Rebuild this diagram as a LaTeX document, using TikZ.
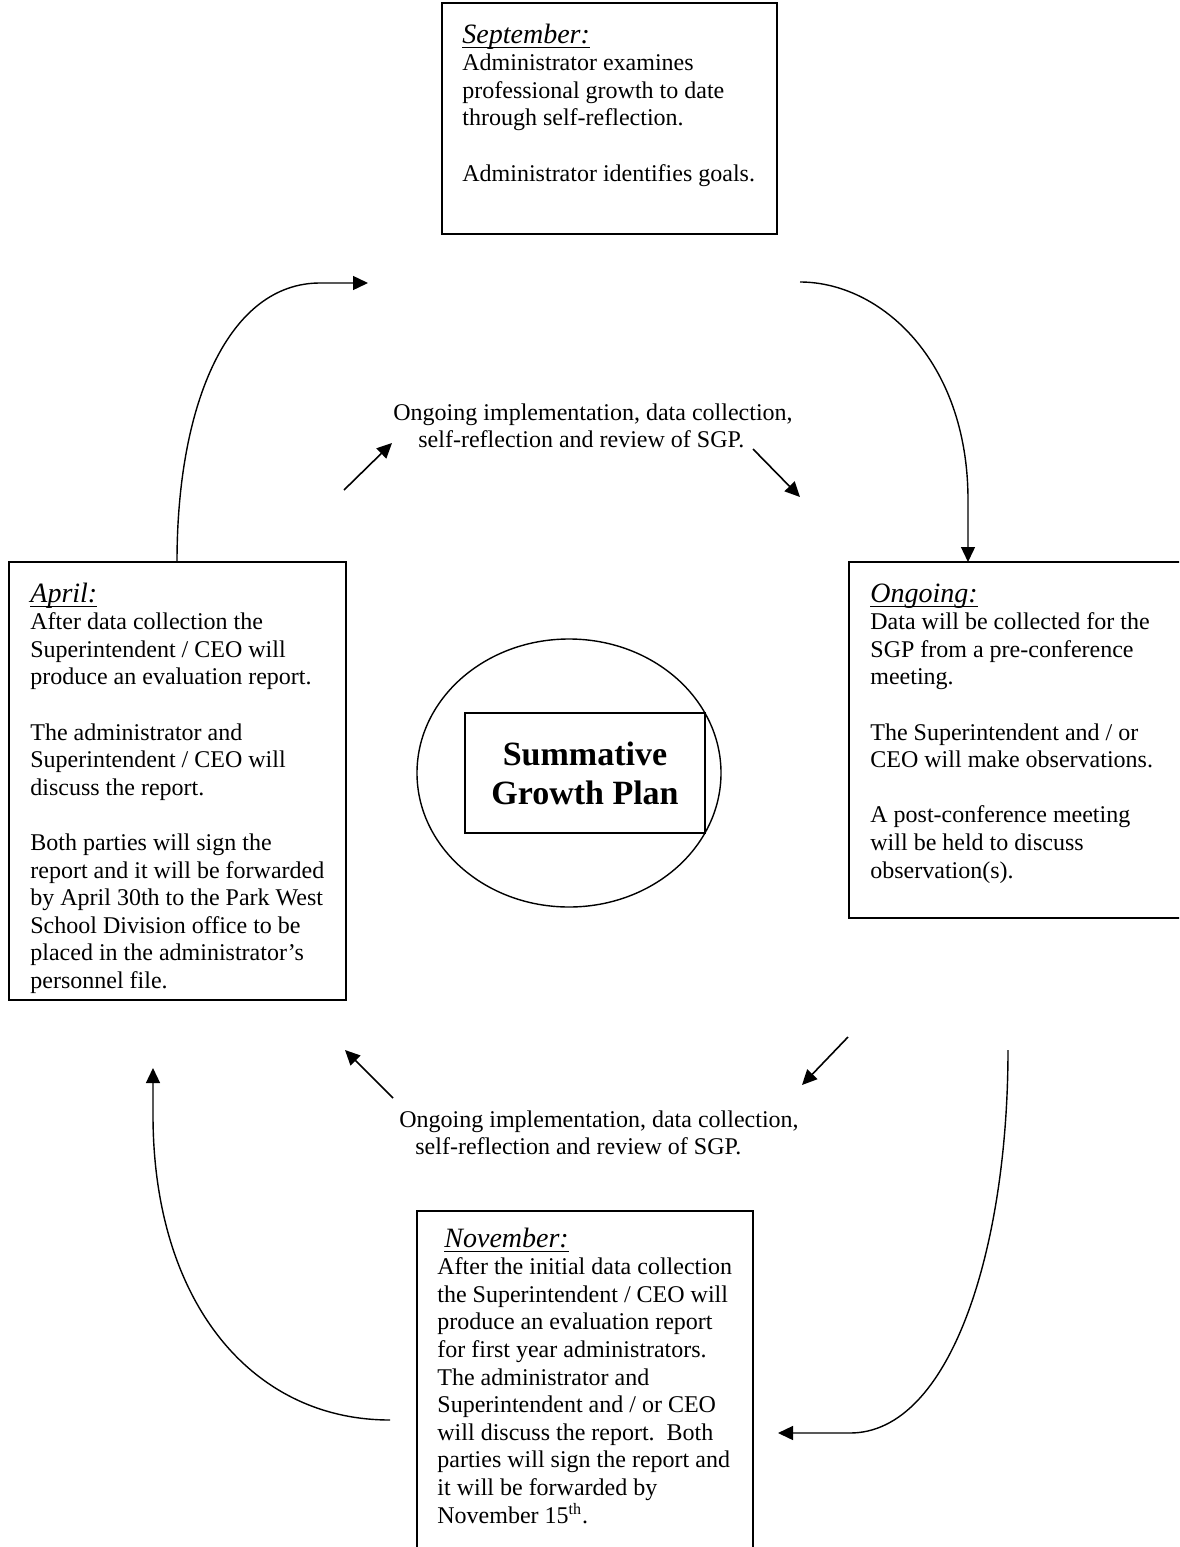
\documentclass[tikz,border=0pt]{standalone}
\usepackage{fontspec}
\setmainfont{Liberation Serif}
\usetikzlibrary{arrows.meta,shapes.geometric}

\tikzset{
  monthbox/.style={draw, line width=1pt, anchor=north west, inner sep=0pt, outer sep=0pt},
  monthtext/.style={anchor=base west, inner sep=0pt, font=\fontsize{12}{13.8}\selectfont},
  note/.style={anchor=base west, inner sep=0pt, font=\fontsize{12}{13.8}\selectfont},
  flow/.style={line width=0.7pt, -{Triangle[length=7.5pt,width=7pt]}},
  shortflow/.style={line width=0.8pt, -{Triangle[length=7.5pt,width=7pt]}}
}
\newcommand\when[1]{\setbox0\hbox{\fontsize{14}{16}\selectfont\itshape #1}\rlap{\rule[-2.4pt]{\wd0}{0.6pt}}\box0}
\newcommand\lines[1]{\begin{tabular}[t]{@{}l@{}}#1\end{tabular}}

\begin{document}
\begin{tikzpicture}[x=0.5pt,y=-0.5pt]
    \useasboundingbox (0,0) rectangle (1179,1547);
    \clip (0,0) rectangle (1179,1547);

    % the four stages
    \node[monthbox, minimum width=167.5pt, minimum height=115.5pt] (sep) at (442,3) {};
    \node[monthtext] (septext) at ([xshift=10pt,yshift=-20pt]sep.north west)
        {\lines{\when{September:}\\Administrator examines\\professional growth to date\\through self-reflection.\\[13.8pt]Administrator identifies goals.}};

    \node[monthbox, minimum width=168.5pt, minimum height=219pt] (apr) at (9,562) {};
    \node[monthtext] (aprtext) at ([xshift=10.5pt,yshift=-20pt]apr.north west)
        {\lines{\when{April:}\\After data collection the\\Superintendent / CEO will\\produce an evaluation report.\\[13.8pt]The administrator and\\Superintendent / CEO will\\discuss the report.\\[13.8pt]Both parties will sign the\\report and it will be forwarded\\by April 30th to the Park West\\School Division office to be\\placed in the administrator’s\\personnel file.}};

    \node[monthbox, minimum width=190pt, minimum height=178pt] (ong) at (849,562) {};
    \node[monthtext] (ongtext) at ([xshift=10.5pt,yshift=-20pt]ong.north west)
        {\lines{\when{Ongoing:}\\Data will be collected for the\\SGP from a pre-conference\\meeting.\\[13.8pt]The Superintendent and / or\\CEO will make observations.\\[13.8pt]A post-conference meeting\\will be held to discuss\\observation(s).}};

    \node[monthbox, minimum width=168pt, minimum height=200pt] (nov) at (417,1211) {};
    \node[monthtext] (novtext) at ([xshift=10pt,yshift=-18pt]nov.north west)
        {\lines{\hspace*{3.5pt}\when{November:}\\After the initial data collection\\the Superintendent / CEO will\\produce an evaluation report\\for first year administrators.\\The administrator and\\Superintendent and / or CEO\\will discuss the report.\ \ Both\\parties will sign the report and\\it will be forwarded by\\November 15\textsuperscript{th}.}};

    % centre
    \node[draw, ellipse, line width=0.7pt, minimum width=152pt, minimum height=134pt] (hub) at (569,773) {};
    \node[draw, line width=1pt, minimum width=120pt, minimum height=60pt, align=center,
          font=\bfseries\fontsize{17}{19.5}\selectfont] (sgp) at (585,773) {Summative\\Growth Plan};

    % review notes
    \node[note] (revtop) at (393,420) {\lines{Ongoing implementation, data collection,\\\hspace*{12.5pt}self-reflection and review of SGP.}};
    \node[note] (revbot) at (399,1127) {\lines{Ongoing implementation, data collection,\\\hspace*{8pt}self-reflection and review of SGP.}};

    % loose ends of the arrows
    \coordinate (toptip) at (368,283);
    \coordinate (topstart) at (800,282);
    \coordinate (rightstart) at (1008,1050);
    \coordinate (bottip) at (778,1433);
    \coordinate (leftstart) at (390,1420);
    \coordinate (lefttip) at (153,1068);
    \coordinate (tl1) at (344,490);  \coordinate (tl2) at (392,443);
    \coordinate (tr1) at (753,449);  \coordinate (tr2) at (800,497);
    \coordinate (bl1) at (393,1098); \coordinate (bl2) at (345,1050);
    \coordinate (br1) at (848,1037); \coordinate (br2) at (802,1085);

    % big cycle arrows
    \draw[flow] ([xshift=84pt]apr.north west) .. controls (177,400) and (230,283) .. (320,283) -- (toptip);
    \draw[flow] (topstart) .. controls (880,282) and (968,360) .. (968,500) -- ([xshift=59.5pt]ong.north west);
    \draw[flow] (rightstart) .. controls (1008,1250) and (950,1433) .. (850,1433) -- (bottip);
    \draw[flow] (leftstart) .. controls (250,1420) and (153,1300) .. (153,1115) -- (lefttip);

    % short arrows
    \draw[shortflow] (tl1) -- (tl2);
    \draw[shortflow] (tr1) -- (tr2);
    \draw[shortflow] (bl1) -- (bl2);
    \draw[shortflow] (br1) -- (br2);
\end{tikzpicture}
\end{document}
